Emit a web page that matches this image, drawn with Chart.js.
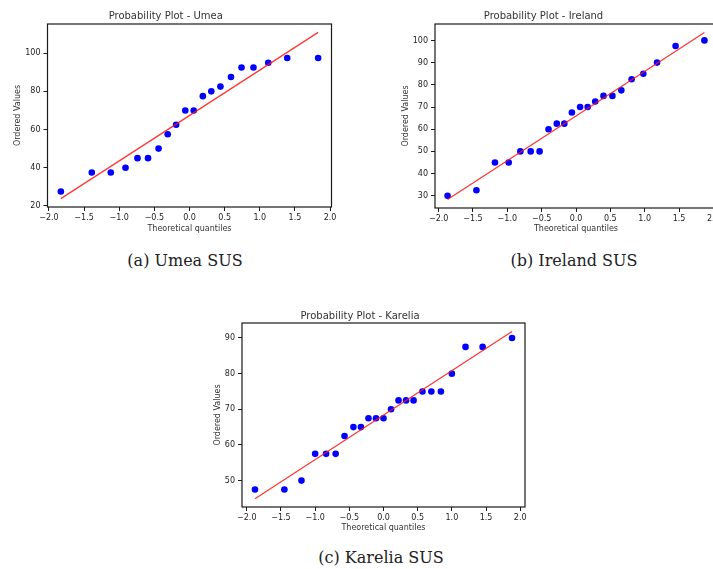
<!DOCTYPE html>
<html><head><meta charset="utf-8">
<script src="https://cdn.jsdelivr.net/npm/chart.js@4.4.0/dist/chart.umd.min.js"></script>
<style>
html,body{margin:0;padding:0;background:#fff;overflow:hidden;width:713px;height:569px;position:relative;}
canvas{position:absolute;}
.cap{position:absolute;font-family:"DejaVu Serif",serif;font-size:16px;color:#222;transform:translate(-50%,-50%);white-space:nowrap;}
</style></head><body>
<canvas id="cA" width="345" height="240" style="left:0;top:0"></canvas>
<canvas id="cB" width="360" height="240" style="left:370px;top:0"></canvas>
<canvas id="cC" width="345" height="240" style="left:195px;top:300px"></canvas>
<div class="cap" style="left:185px;top:260px">(a) Umea SUS</div>
<div class="cap" style="left:574px;top:260px">(b) Ireland SUS</div>
<div class="cap" style="left:381px;top:557px">(c) Karelia SUS</div>
<script>
// ---- data ----
const xTicks = [-2.0,-1.5,-1.0,-0.5,0.0,0.5,1.0,1.5,2.0];

const umeaX = [-1.83,-1.39,-1.12,-0.91,-0.74,-0.59,-0.44,-0.31,-0.19,-0.06,0.06,0.19,0.31,0.44,0.59,0.74,0.91,1.12,1.39,1.83];
const umeaY = [27.5,37.5,37.5,40,45,45,50,57.5,62.5,70,70,77.5,80,82.5,87.5,92.5,92.5,95,97.5,97.5];
const umeaFitX = [-1.83,1.83];
const umeaFitY = [23.8,110.9];
const umeaYTicks = [20,40,60,80,100];

const irelandX = [-1.87,-1.45,-1.18,-0.98,-0.81,-0.66,-0.53,-0.40,-0.28,-0.17,-0.06,0.06,0.17,0.28,0.40,0.53,0.66,0.81,0.98,1.18,1.45,1.87];
const irelandY = [30,32.5,45,45,50,50,50,60,62.5,62.5,67.5,70,70,72.5,75,75,77.5,82.5,85,90,97.5,100];
const irelandFitX = [-1.87,1.87];
const irelandFitY = [28.3,103.6];
const irelandYTicks = [30,40,50,60,70,80,90,100];

const kareliaX = [-1.88,-1.45,-1.20,-1.00,-0.84,-0.70,-0.57,-0.44,-0.33,-0.22,-0.11,0.00,0.11,0.22,0.33,0.44,0.57,0.70,0.84,1.00,1.20,1.45,1.88];
const kareliaY = [47.5,47.5,50,57.5,57.5,57.5,62.5,65,65,67.5,67.5,67.5,70,72.5,72.5,72.5,75,75,75,80,87.5,87.5,90];
const kareliaFitX = [-1.88,1.88];
const kareliaFitY = [44.9,91.8];
const kareliaYTicks = [50,60,70,80,90];

// ---- drawing ----
const frame = {
  id:'frame',
  afterDatasetsDraw(chart){
    const a = chart.chartArea, ctx = chart.ctx;
    ctx.save();
    ctx.strokeStyle = '#1a1a1a';
    ctx.lineWidth = 1.2;
    ctx.strokeRect(a.left, a.top, a.right - a.left, a.bottom - a.top);
    ctx.restore();
  }
};

function pts(xs, ys){ return xs.map((x,i)=>({x:x, y:ys[i]})); }

function make(id, g){
  const tickFont = {family:'DejaVu Sans', size:8};
  new Chart(document.getElementById(id), {
    type:'scatter',
    data:{datasets:[
      {data:pts(g.x,g.y), backgroundColor:'#0000ff', borderColor:'#0000ff', pointRadius:3.3, borderWidth:0, order:1},
      {data:pts(g.fx,g.fy), showLine:true, borderColor:'rgba(255,20,20,0.85)', borderWidth:1.3, pointRadius:0, order:0}
    ]},
    options:{
      responsive:false, animation:false, events:[],
      layout:{padding:{left:0, right:g.padR, top:0, bottom:0}},
      plugins:{
        legend:{display:false}, tooltip:{enabled:false},
        title:{display:true, text:g.title, color:'#333', font:{family:'DejaVu Sans', size:10, weight:'normal'},
               padding:{top:g.tTop, bottom:g.tBot}}
      },
      scales:{
        x:{type:'linear', min:g.xmin, max:g.xmax,
           afterBuildTicks:s=>{ s.ticks = xTicks.map(v=>({value:v})); },
           afterFit:s=>{ s.height = g.xh; s.paddingLeft = 0; s.paddingRight = 0; },
           grid:{display:true, drawOnChartArea:false, drawTicks:true, tickLength:4, tickColor:'#1a1a1a', tickWidth:1},
           border:{display:false},
           ticks:{font:tickFont, color:'#222', padding:2, maxRotation:0, autoSkip:false,
                  callback:v=>v.toFixed(1).replace('-','\u2212')},
           title:{display:true, text:'Theoretical quantiles', color:'#333', font:{family:'DejaVu Sans', size:8},
                  padding:{top:0, bottom:g.xtPad}}
        },
        y:{type:'linear', min:g.ymin, max:g.ymax,
           afterBuildTicks:s=>{ s.ticks = g.yt.map(v=>({value:v})); },
           afterFit:s=>{ s.width = g.yw; s.paddingTop = 0; s.paddingBottom = 0; },
           grid:{display:true, drawOnChartArea:false, drawTicks:true, tickLength:4, tickColor:'#1a1a1a', tickWidth:1},
           border:{display:false},
           ticks:{font:tickFont, color:'#222', padding:3, autoSkip:false, callback:v=>String(v)},
           title:{display:true, text:'Ordered Values', color:'#333', font:{family:'DejaVu Sans', size:8},
                  padding:{top:g.ytPad, bottom:0}}
        }
      }
    },
    plugins:[frame]
  });
}

make('cA', {x:umeaX, y:umeaY, fx:umeaFitX, fy:umeaFitY, yt:umeaYTicks, title:'Probability Plot - Umea',
  xmin:-2.02, xmax:2.02, ymin:19.4, ymax:115.3, padR:13.5, yw:47.5, xh:33, tTop:10, tBot:2, xtPad:6.2, ytPad:12.7});
make('cB', {x:irelandX, y:irelandY, fx:irelandFitX, fy:irelandFitY, yt:irelandYTicks, title:'Probability Plot - Ireland',
  xmin:-2.053, xmax:2.053, ymin:24.5, ymax:107.4, padR:13, yw:65, xh:32, tTop:10, tBot:2, xtPad:6.2, ytPad:31.2});
make('cC', {x:kareliaX, y:kareliaY, fx:kareliaFitX, fy:kareliaFitY, yt:kareliaYTicks, title:'Probability Plot - Karelia',
  xmin:-2.07, xmax:2.07, ymin:42.6, ymax:94.2, padR:15, yw:47, xh:33, tTop:10, tBot:1, xtPad:7.2, ytPad:17.7});
</script>
</body></html>
